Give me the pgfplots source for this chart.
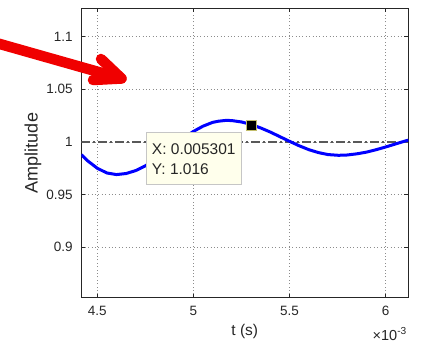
\documentclass[border=0pt]{standalone}
\usepackage{fontspec}
\setmainfont{Liberation Sans}
\usepackage{pgfplots}
\pgfplotsset{compat=1.18}
\definecolor{axgray}{RGB}{38,38,38}
\definecolor{tipbg}{RGB}{255,255,236}
\definecolor{arrowred}{RGB}{240,0,0}
\begin{document}
\begin{tikzpicture}[x=1pt,y=1pt]
\useasboundingbox (0,0) rectangle (421,342);
\begin{axis}[
  at={(81.3pt,44.3pt)}, anchor=south west,
  scale only axis, width=327pt, height=289.4pt,
  xmin=0.0044167, xmax=0.006118, ymin=0.852, ymax=1.127,
  xtick={0.0045,0.005,0.0055,0.006},
  ytick={0.9,0.95,1,1.05,1.1},
  scaled x ticks=base 10:3,
  scaled y ticks=false,
  xtick scale label code/.code={},
  /pgf/number format/assume math mode=true,
  tick label style={font=\fontsize{13.5}{14}\selectfont, text=axgray, inner sep=0pt},
  yticklabel style={anchor=east, xshift=-8.5pt},
  xticklabel style={anchor=north, yshift=-8.3pt},
  xlabel={t (s)}, ylabel={Amplitude},
  xlabel style={at={(axis description cs:0.5,-0.1175)}, anchor=center, font=\fontsize{15.5}{16}\selectfont, text=axgray},
  ylabel style={at={(axis description cs:-0.148,0.5)}, anchor=center, font=\fontsize{18}{18}\selectfont, text=axgray},
  grid=major,
  major grid style={gray!90, line width=0.7pt, dash pattern=on 0.8pt off 2.6pt},
  axis line style={axgray, line width=0.8pt},
  tick style={axgray, line width=0.6pt},
  tick align=inside, major tick length=4pt,
  clip mode=individual,
]
\addplot[black!65, line width=1.3pt, dash pattern=on 9pt off 3pt on 2pt off 3pt] coordinates {(0.0044167,1) (0.006118,1)};
\addplot[blue, line width=3pt, line join=round] coordinates {
(0.0044167,0.9879) (0.00445,0.9820) (0.0045,0.9750) (0.00455,0.9705) (0.0046,0.9690)
(0.00465,0.9700) (0.0047,0.9728) (0.00475,0.9773) (0.0048,0.9831) (0.00485,0.9898)
(0.0049,0.9969) (0.00495,1.0038) (0.005,1.0100) (0.00505,1.0150) (0.0051,1.0186)
(0.00513,1.0197) (0.00517,1.0205) (0.0052,1.0203) (0.00525,1.0190) (0.0053,1.0166)
(0.00535,1.0133) (0.0054,1.0094) (0.00545,1.0050) (0.0055,1.0006) (0.00555,0.9964)
(0.0056,0.9927) (0.00565,0.9899) (0.0057,0.9880) (0.005755,0.9873) (0.0058,0.9876)
(0.00585,0.9887) (0.0059,0.9903) (0.00595,0.9926) (0.006,0.9952) (0.00605,0.9980)
(0.0061,1.0008) (0.006118,1.0017)
};
\addplot[only marks, mark=square*, mark size=5.2pt, mark options={fill=black, draw=yellow!45!gray, line width=0.6pt}] coordinates {(0.005301,1.016)};
\filldraw[fill=tipbg, draw=gray!45, line width=0.8pt] (axis cs:0.004757,1.009) rectangle (axis cs:0.005252,0.9597);
\node[anchor=west, inner sep=0pt, font=\fontsize{15.5}{16}\selectfont, text=black!85] at (axis cs:0.0047833,0.99305) {X: 0.005301};
\node[anchor=west, inner sep=0pt, font=\fontsize{15.5}{16}\selectfont, text=black!85] at (axis cs:0.0047833,0.9740) {Y: 1.016};
\node[anchor=base east, inner sep=0pt, font=\fontsize{14.5}{14.5}\selectfont, text=axgray] at (axis description cs:0.996,-0.1465) {×10\textsuperscript{-3}};
\end{axis}
\draw[arrowred, line width=10.5pt, line cap=round, line join=round] (-10,300.8) -- (121.5,263.5);
\draw[arrowred, line width=10.5pt, line cap=round, line join=round] (101,283) -- (121.5,263.5) -- (93,262);
\end{tikzpicture}
\end{document}
